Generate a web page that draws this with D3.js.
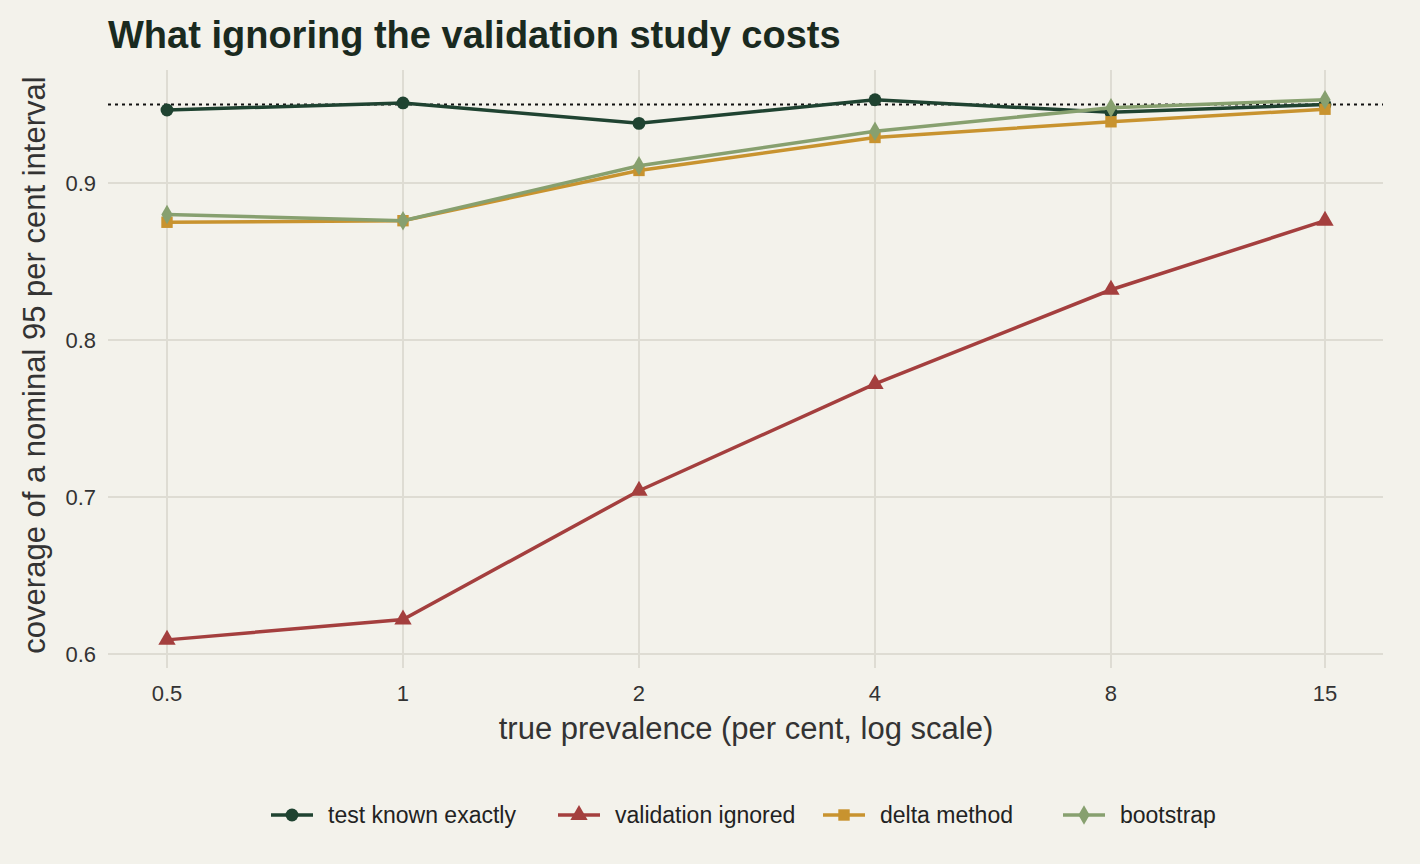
<!DOCTYPE html>
<html><head><meta charset="utf-8">
<script src="https://cdn.jsdelivr.net/npm/d3@7"></script>
<style>
body{margin:0;background:#f3f2eb;font-family:"Liberation Sans",Arial,sans-serif;}
</style></head><body>
<div id="chart"></div>
<script>
var prevalence = [0.5, 1, 2, 4, 8, 15];
var seriesNames = ["test known exactly", "validation ignored", "delta method", "bootstrap"];
var knownExactly = [0.9465, 0.951, 0.938, 0.953, 0.945, 0.950];
var validationIgnored = [0.609, 0.622, 0.704, 0.772, 0.832, 0.876];
var deltaMethod = [0.875, 0.876, 0.908, 0.929, 0.939, 0.947];
var bootstrap = [0.880, 0.876, 0.911, 0.933, 0.948, 0.953];
var yTicks = [0.6, 0.7, 0.8, 0.9];
var nominal = 0.95;

var colors = ["#1f4331", "#a43f3e", "#c8932f", "#87a06f"];
var shapes = [d3.symbolCircle, d3.symbolTriangle, d3.symbolSquare, d3.symbolDiamond];
var values = [knownExactly, validationIgnored, deltaMethod, bootstrap];

var width = 1420, height = 864;
var svg = d3.select("#chart").append("svg").attr("width", width).attr("height", height);
svg.append("rect").attr("width", width).attr("height", height).attr("fill", "#f3f2eb");

var xScale = d3.scaleLog().domain([0.5, 15]).range([167, 1325]);
var yScale = d3.scaleLinear().domain([0.6, 0.9]).range([654, 183]);
var panelTop = 70, panelBottom = 668, panelLeft = 108, panelRight = 1383;

// grid
svg.selectAll(".vgrid").data(prevalence).enter().append("line")
    .attr("x1", function(d) { return xScale(d); }).attr("x2", function(d) { return xScale(d); })
    .attr("y1", panelTop).attr("y2", panelBottom)
    .attr("stroke", "#dedcd3").attr("stroke-width", 2);
svg.selectAll(".hgrid").data(yTicks).enter().append("line")
    .attr("x1", panelLeft).attr("x2", panelRight)
    .attr("y1", function(d) { return yScale(d); }).attr("y2", function(d) { return yScale(d); })
    .attr("stroke", "#dedcd3").attr("stroke-width", 2);

// tick labels
svg.selectAll(".xt").data(prevalence).enter().append("text")
    .attr("x", function(d) { return xScale(d); }).attr("y", 701)
    .attr("text-anchor", "middle").attr("font-size", 22).attr("fill", "#333")
    .text(function(d) { return d; });
svg.selectAll(".yt").data(yTicks).enter().append("text")
    .attr("x", 96).attr("y", function(d) { return yScale(d) + 8; })
    .attr("text-anchor", "end").attr("font-size", 22).attr("fill", "#333")
    .text(function(d) { return d3.format(".1f")(d); });

// dotted nominal line
svg.append("line").attr("x1", panelLeft).attr("x2", panelRight)
    .attr("y1", yScale(nominal)).attr("y2", yScale(nominal))
    .attr("stroke", "#111").attr("stroke-width", 2).attr("stroke-dasharray", "3,4");

var line = d3.line().x(function(d, i) { return xScale(prevalence[i]); }).y(function(d) { return yScale(d); });

values.forEach(function(vals, k) {
    svg.append("path").datum(vals).attr("d", line)
        .attr("fill", "none").attr("stroke", colors[k]).attr("stroke-width", 3.5);
    svg.selectAll(".pt" + k).data(vals).enter().append("path")
        .attr("d", d3.symbol().type(shapes[k]).size(k == 3 ? 110 : 130))
        .attr("transform", function(d, i) { return "translate(" + xScale(prevalence[i]) + "," + yScale(d) + ")"; })
        .attr("fill", colors[k]);
});

// titles
svg.append("text").attr("x", 108).attr("y", 48).attr("font-size", 38).attr("font-weight", "bold")
    .attr("fill", "#1a2a1f").text("What ignoring the validation study costs");
svg.append("text").attr("x", 746).attr("y", 739).attr("text-anchor", "middle")
    .attr("font-size", 31).attr("fill", "#333").text("true prevalence (per cent, log scale)");
svg.append("text").attr("transform", "rotate(-90)").attr("x", -365).attr("y", 45)
    .attr("text-anchor", "middle").attr("font-size", 31).attr("fill", "#333")
    .text("coverage of a nominal 95 per cent interval");

// legend
var legendX = [271, 558, 823, 1063];
seriesNames.forEach(function(name, k) {
    var g = svg.append("g").attr("transform", "translate(" + legendX[k] + ",815)");
    g.append("line").attr("x1", 0).attr("x2", 42).attr("stroke", colors[k]).attr("stroke-width", 3.5);
    g.append("path").attr("d", d3.symbol().type(shapes[k]).size(k == 3 ? 110 : 130))
        .attr("transform", "translate(21,0)").attr("fill", colors[k]);
    g.append("text").attr("x", 57).attr("y", 8).attr("font-size", 23).attr("fill", "#222").text(name);
});
</script>
</body></html>
